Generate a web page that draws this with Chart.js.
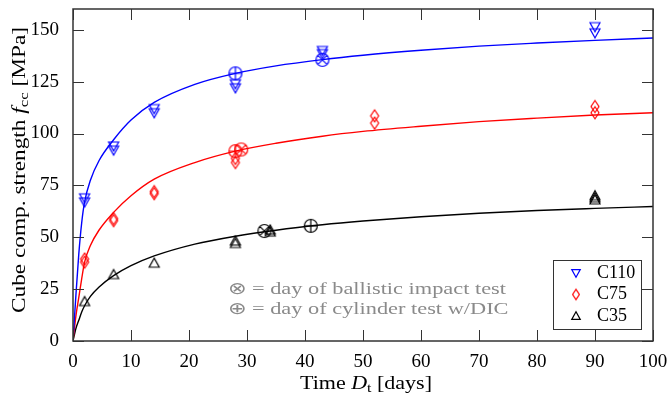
<!DOCTYPE html>
<html>
<head>
<meta charset="utf-8">
<script src="https://cdn.jsdelivr.net/npm/chart.js@4.4.1/dist/chart.umd.min.js"></script>
<style>
  body { margin: 0; background: #fff; }
  canvas { display: block; }
</style>
</head>
<body>
<canvas id="chart" width="667" height="399"></canvas>
<script>
// measured cube strengths (days, MPa)
const c110Days = [2, 2, 7, 7, 14, 14, 28, 28, 43, 43, 90, 90];
const c110Vals = [67, 69, 92, 94, 110, 112, 122, 124, 138.5, 140, 148.5, 151.5];
const c75Days = [2, 2, 7, 7, 14, 14, 28, 28, 52, 52, 90, 90];
const c75Vals = [38, 39.5, 58, 59, 71, 72, 86, 88, 105, 108.5, 110, 113];
const c35Days = [2, 7, 14, 28, 28, 34, 34, 90, 90, 90];
const c35Vals = [19, 32, 37.5, 47, 48.2, 52.5, 53.5, 68, 69, 70];

// fitted curves
const fitDays = [0, 0.5, 1, 1.5, 2, 3, 4.5, 7, 10, 14, 21, 28, 35, 43, 50, 60, 70, 80, 90, 100];
const fitC110 = [0, 22, 42, 57, 67, 77.5, 87, 97, 106.5, 115, 123.7, 129, 132.6, 135.6, 137.7, 140.1, 142.1, 143.6, 144.9, 146];
const fitC75 = [0, 12, 21, 30, 38, 46, 53.5, 62, 70, 78, 86, 91.5, 95.3, 98.7, 101, 103.5, 105.7, 107.4, 108.9, 110];
const fitC35 = [0, 6, 10, 14, 17, 21.5, 26, 31.5, 36.3, 41, 46.7, 50.5, 53.4, 56, 57.8, 59.9, 61.6, 62.9, 63.9, 64.8];

// test days: ballistic impact (otimes) and cylinder test (oplus)
const impactPts = { c110: [43, 135.5], c75: [29, 92.3], c35: [33, 53] };
const cylinderPts = { c110: [28, 129], c75: [28, 91.5], c35: [41, 55.5] };

const xTicks = [0, 10, 20, 30, 40, 50, 60, 70, 80, 90, 100];
const yTicks = [0, 25, 50, 75, 100, 125, 150];

const BLUE = "#0000ff", RED = "#ff0000", BLACK = "#000000";
const FONT = "Liberation Serif";

function pts(xs, ys) {
    return xs.map((x, i) => ({ x: x, y: ys[i] }));
}

function makeMarker(kind, color, k) {
    k = k || 1;
    const c = document.createElement("canvas");
    c.width = 18; c.height = 18;
    const g = c.getContext("2d");
    const m = 9;
    g.strokeStyle = color;
    g.lineWidth = 1.2;
    g.beginPath();
    if (kind == "down") {
        g.moveTo(m - 5 * k, m - 4 * k); g.lineTo(m + 5 * k, m - 4 * k); g.lineTo(m, m + 5 * k); g.closePath();
    } else if (kind == "up") {
        g.moveTo(m - 5 * k, m + 4 * k); g.lineTo(m + 5 * k, m + 4 * k); g.lineTo(m, m - 5 * k); g.closePath();
    } else if (kind == "diamond") {
        g.moveTo(m, m - 6 * k); g.lineTo(m + 4 * k, m); g.lineTo(m, m + 6 * k); g.lineTo(m - 4 * k, m); g.closePath();
    } else {
        const r = 6.5;
        g.arc(m, m, r, 0, Math.PI * 2);
        if (kind == "otimes") {
            const d = r * 0.7071;
            g.moveTo(m - d, m - d); g.lineTo(m + d, m + d);
            g.moveTo(m - d, m + d); g.lineTo(m + d, m - d);
        } else {
            g.moveTo(m - r, m); g.lineTo(m + r, m);
            g.moveTo(m, m - r); g.lineTo(m, m + r);
        }
    }
    g.stroke();
    return c;
}

function scatter(label, data, style, color) {
    return {
        label: label, data: data, showLine: false,
        pointStyle: style, pointRadius: 6, borderColor: color, backgroundColor: color,
    };
}

function curve(ys, color) {
    return {
        label: "", data: pts(fitDays, ys), showLine: true, fill: false,
        borderColor: color, borderWidth: 1.4, pointRadius: 0,
        cubicInterpolationMode: "monotone",
    };
}

const legendItems = [
    { text: "C110", marker: makeMarker("down", BLUE, 0.85) },
    { text: "C75", marker: makeMarker("diamond", RED, 0.85) },
    { text: "C35", marker: makeMarker("up", BLACK, 0.85) },
];

function richWidth(ctx, parts) {
    let w = 0;
    parts.forEach(p => { ctx.font = p.font; w += ctx.measureText(p.t).width; });
    return w;
}

// draws mixed-style text starting at x, stretched so it spans `width`
function drawRich(ctx, parts, x, y, sx) {
    ctx.save();
    ctx.translate(x, y);
    ctx.scale(sx, 1);
    let cx = 0;
    parts.forEach(p => {
        ctx.font = p.font;
        ctx.fillText(p.t, cx, p.dy || 0);
        cx += ctx.measureText(p.t).width;
    });
    ctx.restore();
}

const decorations = {
    id: "decorations",
    afterDatasetsDraw(chart) {
        const ctx = chart.ctx;
        const a = chart.chartArea;
        const xs = chart.scales.x, ys = chart.scales.y;
        ctx.save();
        // inward tick marks on all four sides
        ctx.strokeStyle = "#333";
        ctx.lineWidth = 1;
        ctx.beginPath();
        xTicks.forEach(v => {
            const px = Math.round(xs.getPixelForValue(v)) + 0.5;
            ctx.moveTo(px, a.bottom); ctx.lineTo(px, a.bottom - 11);
            ctx.moveTo(px, a.top); ctx.lineTo(px, a.top + 11);
        });
        yTicks.forEach(v => {
            const py = Math.round(ys.getPixelForValue(v)) + 0.5;
            ctx.moveTo(a.left, py); ctx.lineTo(a.left + 11, py);
            ctx.moveTo(a.right, py); ctx.lineTo(a.right - 11, py);
        });
        ctx.stroke();
        ctx.lineWidth = 1.5;
        ctx.strokeStyle = "#333";
        ctx.strokeRect(a.left, a.top, a.right - a.left, a.bottom - a.top);

        // note on the test markers
        ctx.fillStyle = "#8a8a8a";
        ctx.textBaseline = "middle";
        ctx.textAlign = "left";
        const note1 = [{ t: "\u2297 = day of ballistic impact test", font: "17px " + FONT }];
        const note2 = [{ t: "\u2295 = day of cylinder test w/DIC", font: "17px " + FONT }];
        const nsx = 278 / richWidth(ctx, note1);
        drawRich(ctx, note1, 228, 290, nsx);
        drawRich(ctx, note2, 228, 310, nsx);

        // legend box
        ctx.fillStyle = "#fff";
        ctx.fillRect(553.5, 260.5, 88, 69);
        ctx.lineWidth = 1;
        ctx.strokeStyle = "#333";
        ctx.strokeRect(553.5, 260.5, 88, 69);
        ctx.fillStyle = "#000";
        ctx.font = "18px " + FONT;
        legendItems.forEach((it, i) => {
            const y = 273 + i * 21.5;
            ctx.drawImage(it.marker, 576 - 9, y - 9);
            ctx.fillText(it.text, 597, y);
        });

        // axis titles
        ctx.fillStyle = "#000";
        ctx.textBaseline = "alphabetic";
        const xTitle = [
            { t: "Time ", font: "18px " + FONT },
            { t: "D", font: "italic 18px " + FONT },
            { t: "t", font: "13px " + FONT, dy: 3 },
            { t: " [days]", font: "18px " + FONT },
        ];
        drawRich(ctx, xTitle, 300, 389, 132 / richWidth(ctx, xTitle));
        const yTitle = [
            { t: "Cube comp. strength ", font: "18px " + FONT },
            { t: "f", font: "italic 18px " + FONT },
            { t: "cc", font: "13px " + FONT, dy: 3 },
            { t: " [MPa]", font: "18px " + FONT },
        ];
        ctx.translate(25, 313);
        ctx.rotate(-Math.PI / 2);
        drawRich(ctx, yTitle, 0, 0, 286 / richWidth(ctx, yTitle));
        ctx.restore();
    }
};

new Chart(document.getElementById("chart"), {
    type: "line",
    data: {
        datasets: [
            scatter("C110", pts(c110Days, c110Vals), makeMarker("down", BLUE), BLUE),
            scatter("C75", pts(c75Days, c75Vals), makeMarker("diamond", RED), RED),
            scatter("C35", pts(c35Days, c35Vals), makeMarker("up", BLACK), BLACK),
            scatter("", [{ x: impactPts.c110[0], y: impactPts.c110[1] }], makeMarker("otimes", BLUE), BLUE),
            scatter("", [{ x: impactPts.c75[0], y: impactPts.c75[1] }], makeMarker("otimes", RED), RED),
            scatter("", [{ x: impactPts.c35[0], y: impactPts.c35[1] }], makeMarker("otimes", BLACK), BLACK),
            scatter("", [{ x: cylinderPts.c110[0], y: cylinderPts.c110[1] }], makeMarker("oplus", BLUE), BLUE),
            scatter("", [{ x: cylinderPts.c75[0], y: cylinderPts.c75[1] }], makeMarker("oplus", RED), RED),
            scatter("", [{ x: cylinderPts.c35[0], y: cylinderPts.c35[1] }], makeMarker("oplus", BLACK), BLACK),
            curve(fitC110, BLUE),
            curve(fitC75, RED),
            curve(fitC35, BLACK),
        ]
    },
    options: {
        responsive: false,
        animation: false,
        layout: { padding: { top: 9, right: 14, left: 0, bottom: 0 } },
        plugins: { legend: { display: false }, tooltip: { enabled: false } },
        scales: {
            x: {
                type: "linear", min: 0, max: 100,
                afterBuildTicks: (s) => { s.ticks = xTicks.map(v => ({ value: v })); },
                afterFit: (s) => { s.height = 58; s.paddingLeft = 0; s.paddingRight = 0; },
                grid: { display: false },
                border: { display: false },
                ticks: { color: "#000", padding: 2, autoSkip: false, maxRotation: 0, font: { family: FONT, size: 19 } },
            },
            y: {
                type: "linear", min: 0, max: 160,
                afterBuildTicks: (s) => { s.ticks = yTicks.map(v => ({ value: v })); },
                afterFit: (s) => { s.width = 73; s.paddingTop = 0; s.paddingBottom = 0; },
                grid: { display: false },
                border: { display: false },
                ticks: { color: "#000", padding: 6, font: { family: FONT, size: 19 } },
            }
        }
    },
    plugins: [decorations]
});
</script>
</body>
</html>
